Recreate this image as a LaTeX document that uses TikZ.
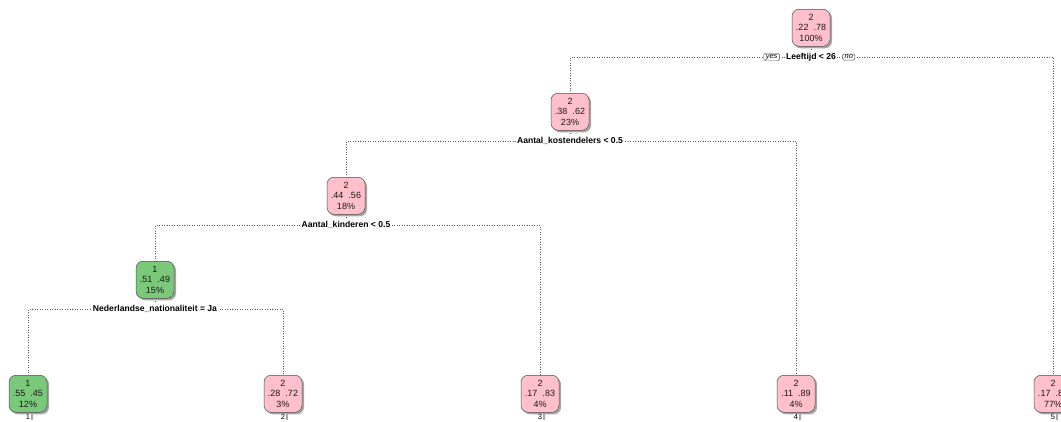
\documentclass[tikz,border=0pt]{standalone}
\usepackage{fontspec}
\setmainfont{Liberation Sans}
\usetikzlibrary{shadows,backgrounds}
\definecolor{pinkfill}{RGB}{255,192,203}
\definecolor{greenfill}{RGB}{122,201,122}
\begin{document}
\begin{tikzpicture}[x=1pt,y=-1pt,
  tnode/.style={draw=black!70, line width=0.5pt, rounded corners=7pt,
    minimum width=38pt, minimum height=37pt, inner sep=0pt, align=center,
    font=\fontsize{9}{10.2}\selectfont, text=black!90,
    drop shadow={shadow xshift=2pt, shadow yshift=-2pt, fill=black!35, opacity=1}},
  pinkn/.style={tnode, fill=pinkfill},
  greenn/.style={tnode, fill=greenfill},
  splitlbl/.style={fill=white, inner sep=1.2pt, font=\bfseries\fontsize{8.6}{9.5}\selectfont},
  ynbox/.style={draw=black!70, line width=0.4pt, rounded corners=1.5pt, fill=white,
    inner xsep=2pt, inner ysep=1pt, font=\itshape\fontsize{7.5}{8}\selectfont},
  leafnum/.style={fill=white, inner sep=0.8pt, font=\fontsize{7.5}{8.5}\selectfont,
    drop shadow={shadow xshift=2pt, shadow yshift=0pt, fill=black!35, opacity=1}},
  conn/.style={draw=black!65, line width=0.5pt, dotted}
]
\useasboundingbox (0,0) rectangle (1061,421);
\clip (0,0) rectangle (1061,421);

% internal nodes
\node[pinkn, anchor=north]  (n1) at (811,9)   {2\\.22\ \ .78\\100\%};
\node[pinkn, anchor=north]  (n2) at (570,93)  {2\\.38\ \ .62\\23\%};
\node[pinkn, anchor=north]  (n3) at (346,177) {2\\.44\ \ .56\\18\%};
\node[greenn, anchor=north] (n4) at (155,261) {1\\.51\ \ .49\\15\%};

% leaves
\node[greenn, anchor=north] (l1) at (28,375)   {1\\.55\ \ .45\\12\%};
\node[pinkn, anchor=north]  (l2) at (283,375)  {2\\.28\ \ .72\\3\%};
\node[pinkn, anchor=north]  (l3) at (540,375)  {2\\.17\ \ .83\\4\%};
\node[pinkn, anchor=north]  (l4) at (796,375)  {2\\.11\ \ .89\\4\%};
\node[pinkn, anchor=north]  (l5) at (1053,375) {2\\.17\ \ .83\\77\%};

% leaf numbers
\node[leafnum] (k1) at (28,417)   {1};
\node[leafnum] (k2) at (283,417)  {2};
\node[leafnum] (k3) at (540,417)  {3};
\node[leafnum] (k4) at (796,417)  {4};
\node[leafnum] (k5) at (1053,417) {5};

% split labels
\node[splitlbl] (s1) at (811,57)  {Leeftijd < 26};
\node[splitlbl] (s2) at (570,141) {Aantal\_kostendelers < 0.5};
\node[splitlbl] (s3) at (346,225) {Aantal\_kinderen < 0.5};
\node[splitlbl] (s4) at (155,309) {Nederlandse\_nationaliteit = Ja};

\node[ynbox, anchor=east] (yes) at ([xshift=-5pt]s1.west) {yes};
\node[ynbox, anchor=west] (no)  at ([xshift=5pt]s1.east)  {no};

% branch corners
\coordinate (c1L) at (570,57);  \coordinate (c1R) at (1053,57);
\coordinate (c2L) at (346,141); \coordinate (c2R) at (796,141);
\coordinate (c3L) at (155,225); \coordinate (c3R) at (540,225);
\coordinate (c4L) at (28,309);  \coordinate (c4R) at (283,309);

\begin{scope}[on background layer]
  \draw[conn] (n1.south) -- (s1.north);
  \draw[conn] (n2.south) -- (s2.north);
  \draw[conn] (n3.south) -- (s3.north);
  \draw[conn] (n4.south) -- (s4.north);
  \draw[conn] (n2.north) -- (c1L) -- (c1R) -- (l5.north);
  \draw[conn] (n3.north) -- (c2L) -- (c2R) -- (l4.north);
  \draw[conn] (n4.north) -- (c3L) -- (c3R) -- (l3.north);
  \draw[conn] (l1.north) -- (c4L) -- (c4R) -- (l2.north);
\end{scope}
\end{tikzpicture}
\end{document}
